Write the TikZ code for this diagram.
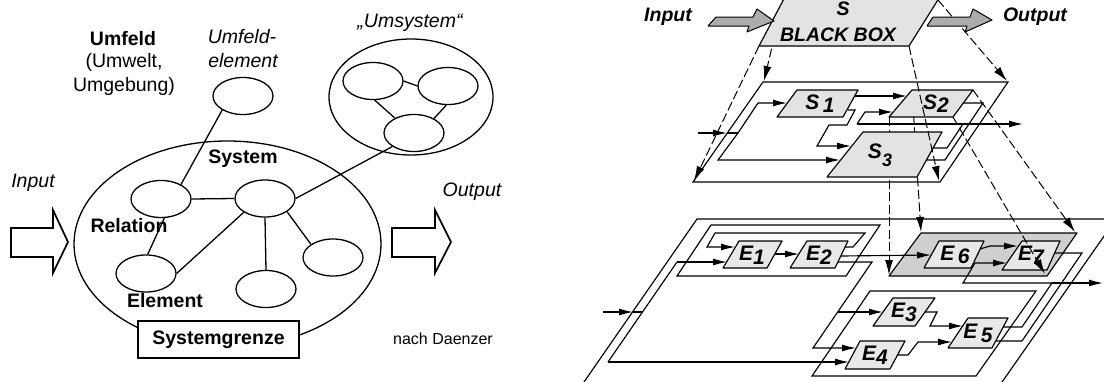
\documentclass[tikz,border=0pt]{standalone}
\usepackage{fontspec}
\setmainfont{Liberation Sans}
\usetikzlibrary{arrows.meta,shapes.geometric}
\begin{document}
\begin{tikzpicture}[x=1pt,y=-1pt,
  ln/.style={line width=1.3pt},
  ell/.style={draw,ellipse,line width=1.3pt,inner sep=0pt,minimum width=60pt,minimum height=37pt},
  txt/.style={inner sep=0pt,font=\fontsize{19.5}{23}\selectfont},
  btxt/.style={inner sep=0pt,font=\fontsize{19.5}{23}\selectfont\bfseries},
  itxt/.style={inner sep=0pt,font=\fontsize{19.5}{23}\selectfont\itshape},
  bitxt/.style={inner sep=0pt,font=\fontsize{19.5}{23}\selectfont\bfseries\itshape},
  lbtxt/.style={inner sep=0pt,font=\fontsize{21}{23}\selectfont\bfseries\itshape},
  hollow/.style={draw,fill=white,line width=1.7pt,line join=miter},
  rl/.style={line width=1.15pt},
  arr/.style={rl,-{Latex[length=14pt,width=7pt]}},
  dsh/.style={line width=1pt,dash pattern=on 9pt off 3.5pt},
  darr/.style={dsh,-{Latex[length=15pt,width=8pt]}},
  boxf/.style={draw,line width=1.15pt,fill=gray!22,line join=round},
  grpf/.style={draw,line width=1.15pt,fill=gray!38,line join=round},
  ebox/.style={draw,line width=1.15pt,fill=gray!18,line join=round},
  grarrow/.style={draw,line width=1pt,fill=gray!65,line join=round}]
\useasboundingbox (0,0) rectangle (1104,381);

% ================= LEFT: system model =================
\node[ell,minimum width=307pt,minimum height=206pt] (sys) at (227.5,244) {};
\node[ell,minimum width=164pt,minimum height=116pt] (ums) at (411,97) {};
\node[ell] (ua) at (373,81) {};
\node[ell] (ub) at (448,86) {};
\node[ell] (uc) at (414,133) {};
\node[ell] (ue) at (243,96) {};
\node[ell] (e1) at (161,199) {};
\node[ell] (e2) at (265,198.5) {};
\node[ell] (e3) at (146,273.5) {};
\node[ell] (e4) at (266,289) {};
\node[ell] (e5) at (333,257.5) {};

\draw[ln] (e1.east)--(e2.west);
\draw[ln] (e1.-80)--(e3.85);
\draw[ln] (e2.213)--(e3.east);
\draw[ln] (e2.south)--(e4.north);
\draw[ln] (e2.-31)--(e5.149);
\draw[ln] (e2.east)--(uc.212);
\draw[ln] (e1.36)--(ue.214);
\draw[ln] (ua.east)--(ub.west);
\draw[ln] (ua.-85)--(uc.142);
\draw[ln] (ub.-95)--(uc.36);

\node[draw,fill=white,line width=1.2pt,minimum width=161pt,minimum height=37pt,inner sep=0pt,
      font=\fontsize{19.5}{23}\selectfont\bfseries] (sg) at (218.5,339.5) {Systemgrenze};

\draw[hollow] (11,228)--(53,228)--(53,210)--(68,242)--(53,273)--(53,257)--(11,257)--cycle;
\draw[hollow] (392,228)--(435,228)--(435,210)--(451,242)--(435,273)--(435,257)--(392,257)--cycle;

\node[itxt] (inL) at (33,183) {Input};
\node[itxt] (outL) at (472,192) {Output};
\node[btxt] (umf) at (123,39) {Umfeld};
\node[txt] (umw) at (124,62) {(Umwelt,};
\node[txt] (umg) at (124,86) {Umgebung)};
\node[itxt] (uel1) at (242,37) {Umfeld-};
\node[itxt] (uel2) at (243,61) {element};
\node[itxt] (umsl) at (410,23) {„Umsystem“};
\node[btxt] (sysl) at (243,159) {System};
\node[btxt] (rell) at (129,226) {Relation};
\node[btxt] (elel) at (165,301) {Element};
\node[inner sep=0pt,font=\fontsize{16}{19}\selectfont] (nach) at (443,339) {nach Daenzer};

% ================= RIGHT: bottom layer =================
\draw[rl] (697,219)--(1116,219)--(993,395)--(575,395)--cycle;
\draw[rl] (711,225)--(880,225)--(846,276)--(677,276)--cycle;
\draw[rl] (870,291)--(1036,291)--(976,376)--(812,376)--cycle;
\draw[grpf] (889,276)--(1047,276)--(1077,233)--(921,233)--cycle;

\draw[ebox] (723,268)--(767,268)--(782,241)--(739,241)--cycle;
\draw[ebox] (790,268)--(835,268)--(848,241)--(807,241)--cycle;
\draw[ebox] (873,326)--(915,326)--(935,298)--(893,298)--cycle;
\draw[ebox] (845,369)--(890,369)--(905,341)--(860,341)--cycle;
\draw[ebox] (948,348)--(992,348)--(1008,318)--(968,318)--cycle;
\draw[ebox] (924,268)--(971,268)--(984,241)--(939,241)--cycle;
\draw[ebox] (1002,270)--(1047,270)--(1060,241)--(1022,241)--cycle;

\node[lbtxt] (le1) at (752,255) {E\raisebox{-4pt}{1}};
\node[lbtxt] (le2) at (819,255) {E\raisebox{-4pt}{2}};
\node[lbtxt] (le3) at (904,312) {E\raisebox{-4pt}{3}};
\node[lbtxt] (le4) at (875,355) {E\raisebox{-4pt}{4}};
\node[lbtxt] (le5) at (978,333) {E\,\raisebox{-4pt}{5}};
\node[lbtxt] (le6) at (955,255) {E\,\raisebox{-3pt}{6}};
\node[lbtxt] (le7) at (1031,255) {E\raisebox{-4pt}{7}};

\draw[arr] (845,247)--(853,247)--(865,233)--(715,233)--(707,247)--(735,247);
\draw[arr] (775,254)--(799,254);
\draw[arr] (841,256)--(931,255);
\draw[arr] (838,262)--(872,262)--(813,348)--(856,348);
\draw[arr] (838,312)--(883,312);
\draw[arr] (603,312)--(633,312);
\draw[rl] (633,312)--(642.5,312);
\draw[rl] (677,262)--(608,362);
\draw[arr] (677,262)--(727,262);
\draw[arr] (608,362)--(849,362);
\draw[arr] (925,312)--(937,312)--(930,326)--(963,326);
\draw[arr] (897,355)--(908,355)--(918,342)--(952,342);
\draw[arr] (1003,327)--(1022,327)--(1052,283)--(963,283)--(975,263)--(1007,263);
\draw[arr] (1052,283)--(1103,283);
\draw[rl] (1055,253)--(1082,253)--(1022,341)--(996,341);
\draw[arr] (980,249)--(990,246)--(1018,246);

% ================= RIGHT: middle layer =================
\draw[rl] (763,82)--(1008,82)--(940,182)--(693,182)--cycle;
\draw[arr] (698,133)--(727,133);
\draw[rl] (727,133)--(738,133);
\draw[arr] (738,133)--(758,103)--(787,103);
\draw[arr] (738,133)--(718,160)--(840,160);
\draw[arr] (855,96)--(907,96);
\draw[arr] (848,110)--(855,110)--(847,125)--(829,125)--(817,146)--(851,146);
\draw[arr] (857,124)--(865,112)--(893,112);
\draw[arr] (857,124)--(1023,124);
\draw[rl] (933,148)--(947,148)--(963,124);
\draw[rl] (963,103)--(983,103)--(945,160)--(926,160);

\draw[darr] (889,117)--(889,275);
\draw[darr] (912,90)--(921,232);
\draw[darr] (953,117)--(1045,274);
\draw[darr] (973,90)--(1075,232);

\draw[boxf] (777,117)--(843,117)--(858,90)--(797,90)--cycle;
\draw[boxf] (827,177)--(917,177)--(942,132)--(863,132)--cycle;
\draw[boxf] (889,117)--(953,117)--(973,90)--(912,90)--cycle;
\node[lbtxt] (ls1) at (820,104) {S\,\raisebox{-3pt}{1}};
\node[lbtxt] (ls2) at (936,104) {S\raisebox{-3pt}{2}};
\node[lbtxt] (ls3) at (880,155) {S\raisebox{-8pt}{\fontsize{18}{18}\selectfont 3}};

% ================= RIGHT: black box =================
\draw[darr] (783,0)--(764,81);
\draw[darr] (759,46)--(694,181);
\draw[darr] (909,46)--(939,181);
\draw[darr] (938,0)--(1007,81);
\draw[boxf] (759,46)--(909,46)--(941,-5)--(786,-5)--cycle;
\node[bitxt] (bbs) at (843,9) {S};
\node[bitxt] (bbt) at (838,35) {BLACK BOX};
\draw[grarrow] (708,26)--(716,17)--(753,17)--(757,9)--(774,21)--(747,32)--(749,26)--cycle;
\draw[grarrow] (927,26)--(933,17)--(970,17)--(973,9)--(992,20)--(965,32)--(967,26)--cycle;
\node[bitxt] (inR) at (668,17) {Input};
\node[bitxt] (outR) at (1035,17) {Output};
\end{tikzpicture}
\end{document}
